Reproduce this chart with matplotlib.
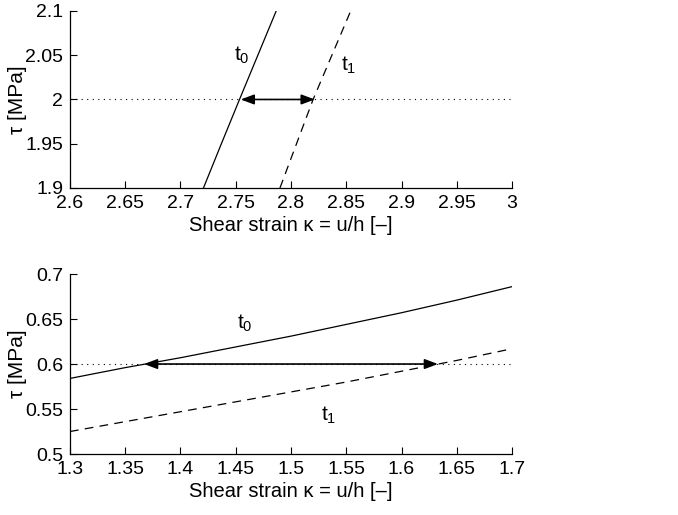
import matplotlib
matplotlib.use("Agg")
import matplotlib.pyplot as plt
import numpy as np

plt.rcParams['font.family'] = ['Liberation Sans', 'DejaVu Sans']
plt.rcParams['mathtext.fontset'] = 'custom'
plt.rcParams['mathtext.rm'] = 'Liberation Sans'
plt.rcParams['mathtext.it'] = 'Liberation Sans'

# Top panel data
top_kappa_t0 = [2.7208, 2.737, 2.7534, 2.770, 2.7866]
top_tau_t0 = [1.90, 1.95, 2.00, 2.05, 2.10]
top_kappa_t1 = [2.790, 2.805, 2.820, 2.837, 2.854]
top_tau_t1 = [1.90, 1.95, 2.00, 2.05, 2.10]
top_level = 2.0
top_arrow = [2.7545, 2.8215]

# Bottom panel data
bot_kappa = [1.30, 1.35, 1.40, 1.45, 1.50, 1.55, 1.60, 1.65, 1.70]
bot_tau_t0 = [0.584, 0.596, 0.607, 0.619, 0.631, 0.644, 0.657, 0.671, 0.686]
bot_tau_t1 = [0.525, 0.536, 0.547, 0.558, 0.569, 0.580, 0.592, 0.604, 0.617]
bot_level = 0.6
bot_arrow = [1.367, 1.633]

xlabel = 'Shear strain κ = u/h [–]'
ylabel = 'τ [MPa]'

fig = plt.figure(figsize=(6.78, 5.15), dpi=100)
ax1 = fig.add_axes([0.1032, 0.635, 0.652, 0.3437])
ax2 = fig.add_axes([0.1032, 0.1184, 0.652, 0.3495])

def style(ax):
    ax.spines['top'].set_visible(False)
    ax.spines['right'].set_visible(False)
    for s in ('left', 'bottom'):
        ax.spines[s].set_linewidth(0.9)
    ax.tick_params(direction='in', labelsize=14, length=5, width=0.8)
    ax.tick_params(axis='x', pad=5)
    ax.tick_params(axis='y', pad=5)
    ax.set_xlabel(xlabel, fontsize=14.5, labelpad=3)
    ax.set_ylabel(ylabel, fontsize=15, va='center')
    ax.yaxis.set_label_coords(-0.118, 0.5)

# Top
ax1.plot(top_kappa_t0, top_tau_t0, color='black', lw=0.9)
ax1.plot(top_kappa_t1, top_tau_t1, color='black', lw=0.9, ls=(0, (7, 5)))
ax1.axhline(top_level, color='black', lw=0.8, ls=(0, (1, 4)))
ax1.annotate('', xy=(top_arrow[0], top_level), xytext=(top_arrow[1], top_level),
             arrowprops=dict(arrowstyle='<|-|>,head_length=0.8,head_width=0.3',
                             color='black', lw=1.2, shrinkA=0, shrinkB=0))
ax1.text(2.755, 2.05, '$t_0$', fontsize=15, ha='center', va='center')
ax1.text(2.852, 2.038, '$t_1$', fontsize=15, ha='center', va='center')
ax1.set_xlim(2.6, 3.0)
ax1.set_ylim(1.9, 2.1)
ax1.set_xticks(np.arange(2.6, 3.0001, 0.05))
ax1.set_xticklabels(['2.6', '2.65', '2.7', '2.75', '2.8', '2.85', '2.9', '2.95', '3'])
ax1.set_yticks([1.9, 1.95, 2.0, 2.05, 2.1])
ax1.set_yticklabels(['1.9', '1.95', '2', '2.05', '2.1'])
style(ax1)

# Bottom
ax2.plot(bot_kappa, bot_tau_t0, color='black', lw=0.9)
ax2.plot(bot_kappa, bot_tau_t1, color='black', lw=0.9, ls=(0, (7, 5)))
ax2.axhline(bot_level, color='black', lw=0.8, ls=(0, (1, 4)))
ax2.annotate('', xy=(bot_arrow[0], bot_level), xytext=(bot_arrow[1], bot_level),
             arrowprops=dict(arrowstyle='<|-|>,head_length=0.8,head_width=0.3',
                             color='black', lw=1.2, shrinkA=0, shrinkB=0))
ax2.text(1.458, 0.645, '$t_0$', fontsize=15, ha='center', va='center')
ax2.text(1.534, 0.543, '$t_1$', fontsize=15, ha='center', va='center')
ax2.set_xlim(1.3, 1.7)
ax2.set_ylim(0.5, 0.7)
ax2.set_xticks(np.arange(1.3, 1.7001, 0.05))
ax2.set_xticklabels(['1.3', '1.35', '1.4', '1.45', '1.5', '1.55', '1.6', '1.65', '1.7'])
ax2.set_yticks([0.5, 0.55, 0.6, 0.65, 0.7])
ax2.set_yticklabels(['0.5', '0.55', '0.6', '0.65', '0.7'])
style(ax2)

fig.savefig('out.png', dpi=100)
